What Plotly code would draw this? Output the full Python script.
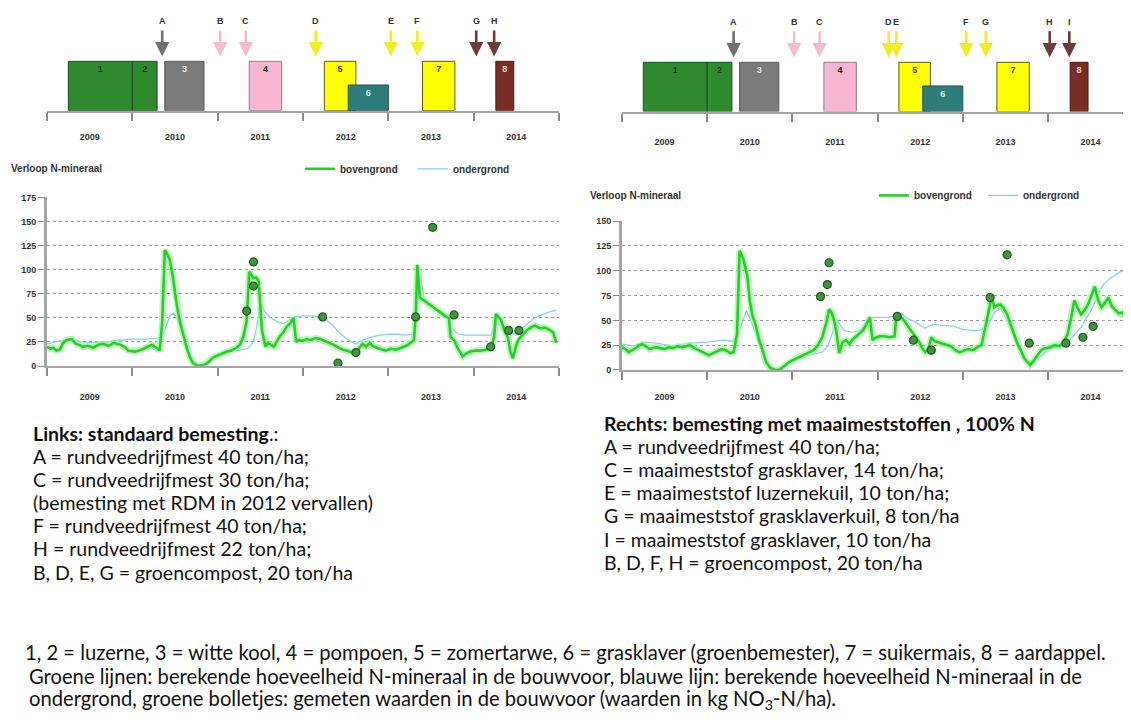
import plotly.graph_objects as go

W, H = 1131, 722
OFF = 8  # the page body adds an 8px margin; positions below are screen pixels

# ---------------- data ----------------
year_labels = ["2009", "2010", "2011", "2012", "2013", "2014"]
year_mid = [2009.5, 2010.5, 2011.5, 2012.5, 2013.5, 2014.5]
year_bounds = [2009, 2010, 2011, 2012, 2013, 2014, 2015]

crop_labels = ["1", "2", "3", "4", "5", "6", "7", "8"]
crop_start = [2009.25, 2010.0, 2010.38, 2011.37, 2012.25, 2012.53, 2013.40, 2014.26]
crop_end = [2010.0, 2010.29, 2010.84, 2011.75, 2012.62, 2013.0, 2013.78, 2014.47]
crop_height = [1, 1, 1, 1, 1, 0.52, 1, 1]

arrows_left_labels = ["A", "B", "C", "D", "E", "F", "G", "H"]
arrows_left_t = [2010.35, 2011.03, 2011.33, 2012.15, 2013.03, 2013.34, 2014.03, 2014.24]
arrows_left_kind = ["rdm", "gc", "gc", "y", "y", "y", "m", "m"]

arrows_right_labels = ["A", "B", "C", "D", "E", "F", "G", "H", "I"]
arrows_right_t = [2010.31, 2011.02, 2011.32, 2012.13, 2012.22, 2013.04, 2013.27, 2014.02, 2014.25]
arrows_right_kind = ["rdm", "gc", "gc", "y", "y", "y", "y", "m", "m"]

# left panel: bovengrond (green)
lb_t = [2009.00, 2009.04, 2009.07, 2009.11, 2009.15, 2009.19, 2009.23, 2009.29, 2009.34, 2009.38, 2009.42,
        2009.48, 2009.54, 2009.60, 2009.66, 2009.72, 2009.78, 2009.83, 2009.87, 2009.92, 2009.95, 2010.03,
        2010.08, 2010.13, 2010.18, 2010.23, 2010.28, 2010.32, 2010.35, 2010.38, 2010.40, 2010.44, 2010.48,
        2010.52, 2010.56, 2010.60, 2010.64, 2010.68, 2010.71, 2010.77, 2010.83, 2010.88, 2010.91, 2010.95,
        2011.00, 2011.05, 2011.11, 2011.16, 2011.22, 2011.26, 2011.30, 2011.34, 2011.37, 2011.40, 2011.42,
        2011.45, 2011.48, 2011.52, 2011.56, 2011.59, 2011.62, 2011.66, 2011.69, 2011.73, 2011.77, 2011.81,
        2011.85, 2011.89, 2011.92, 2011.95, 2012.00, 2012.04, 2012.09, 2012.15, 2012.20, 2012.26, 2012.31,
        2012.36, 2012.42, 2012.47, 2012.52, 2012.57, 2012.62, 2012.66, 2012.70, 2012.74, 2012.78, 2012.82,
        2012.86, 2012.91, 2012.97, 2013.03, 2013.09, 2013.15, 2013.21, 2013.26, 2013.30, 2013.32, 2013.34,
        2013.37, 2013.40, 2013.44, 2013.48, 2013.53, 2013.58, 2013.63, 2013.68, 2013.71, 2013.73, 2013.77,
        2013.81, 2013.85, 2013.87, 2013.91, 2013.96, 2014.02, 2014.08, 2014.14, 2014.20, 2014.24, 2014.26,
        2014.29, 2014.32, 2014.36, 2014.40, 2014.43, 2014.46, 2014.50, 2014.53, 2014.57, 2014.62, 2014.67,
        2014.72, 2014.78, 2014.83, 2014.88, 2014.93, 2014.97]
lb_v = [20, 18, 19, 16, 17, 24, 27, 28, 23, 22, 20,
        21, 19, 22, 23, 21, 24, 23, 22, 19, 16, 15,
        16, 18, 20, 22, 19, 16, 45, 120, 118, 110, 90,
        64, 45, 32, 18, 8, 3, 0, 1, 3, 6, 9,
        11, 13, 15, 16, 19, 22, 30, 47, 98, 94, 91,
        92, 88, 37, 20, 24, 22, 20, 25, 31, 35, 41,
        44, 50, 25, 27, 26, 28, 27, 29, 28, 26, 24,
        22, 19, 17, 16, 14, 13, 19, 23, 20, 24, 21,
        19, 18, 16, 18, 17, 19, 21, 24, 27, 51, 105,
        71, 69, 66, 64, 60, 57, 54, 51, 50, 30, 27,
        19, 13, 10, 13, 15, 16, 16, 17, 18, 30, 54,
        51, 48, 37, 30, 15, 8, 22, 28, 32, 37, 40,
        42, 39, 40, 38, 35, 24]

# left panel: ondergrond (light blue)
lo_t = [2009.00, 2009.08, 2009.15, 2009.28, 2009.40, 2009.55, 2009.70, 2009.85, 2010.00, 2010.15, 2010.30,
        2010.35, 2010.40, 2010.44, 2010.48, 2010.52, 2010.58, 2010.65, 2010.72, 2010.78, 2010.85, 2010.95,
        2011.10, 2011.25, 2011.35, 2011.42, 2011.46, 2011.50, 2011.55, 2011.62, 2011.70, 2011.76, 2011.83,
        2011.90, 2012.00, 2012.10, 2012.20, 2012.27, 2012.35, 2012.42, 2012.50, 2012.57, 2012.62, 2012.70,
        2012.80, 2012.90, 2013.00, 2013.10, 2013.20, 2013.30, 2013.34, 2013.37, 2013.42, 2013.50, 2013.60,
        2013.70, 2013.76, 2013.82, 2013.90, 2014.00, 2014.10, 2014.20, 2014.26, 2014.32, 2014.40, 2014.47,
        2014.55, 2014.63, 2014.72, 2014.80, 2014.88, 2014.97]
lo_v = [23, 25, 26, 28, 25, 24, 25, 27, 28, 28, 29,
        31, 42, 52, 55, 50, 38, 18, 5, 1, 3, 9,
        14, 16, 18, 25, 42, 66, 57, 50, 46, 44, 47,
        51, 52, 52, 51, 48, 42, 35, 29, 25, 23, 27,
        30, 32, 33, 33, 32, 33, 60, 95, 71, 63, 57,
        53, 38, 33, 32, 32, 32, 32, 44, 42, 36, 33,
        38, 44, 50, 53, 56, 58]

# left panel: measured values
lm_t = [2011.34, 2011.42, 2011.42, 2012.23, 2012.41, 2012.62, 2013.32, 2013.52, 2013.77, 2014.20, 2014.41, 2014.53]
lm_v = [57, 108, 83, 51, 3, 14, 51, 144, 53, 20, 37, 37]

# right panel: bovengrond (green)
rb_t = [2009.00, 2009.04, 2009.08, 2009.12, 2009.16, 2009.20, 2009.24, 2009.28, 2009.32, 2009.36, 2009.40,
        2009.45, 2009.50, 2009.55, 2009.60, 2009.65, 2009.70, 2009.75, 2009.80, 2009.85, 2009.90, 2009.95,
        2010.02, 2010.07, 2010.12, 2010.17, 2010.22, 2010.27, 2010.31, 2010.35, 2010.38, 2010.40, 2010.43,
        2010.47, 2010.50, 2010.53, 2010.57, 2010.61, 2010.65, 2010.69, 2010.74, 2010.80, 2010.85, 2010.90,
        2010.96, 2011.03, 2011.08, 2011.14, 2011.20, 2011.25, 2011.30, 2011.35, 2011.40, 2011.43, 2011.46,
        2011.49, 2011.52, 2011.55, 2011.59, 2011.63, 2011.67, 2011.71, 2011.75, 2011.79, 2011.83, 2011.87,
        2011.91, 2011.94, 2011.97, 2012.02, 2012.08, 2012.14, 2012.20, 2012.22, 2012.25, 2012.29, 2012.33,
        2012.37, 2012.41, 2012.45, 2012.49, 2012.53, 2012.56, 2012.60, 2012.63, 2012.67, 2012.71, 2012.76,
        2012.81, 2012.86, 2012.91, 2012.96, 2013.00, 2013.06, 2013.12, 2013.17, 2013.22, 2013.27, 2013.30,
        2013.34, 2013.37, 2013.40, 2013.44, 2013.48, 2013.52, 2013.56, 2013.60, 2013.64, 2013.68, 2013.72,
        2013.76, 2013.79, 2013.83, 2013.87, 2013.92, 2013.97, 2014.03, 2014.08, 2014.13, 2014.18, 2014.23,
        2014.27, 2014.31, 2014.35, 2014.39, 2014.43, 2014.47, 2014.51, 2014.55, 2014.59, 2014.63, 2014.67,
        2014.71, 2014.75, 2014.79, 2014.83, 2014.87, 2014.91, 2014.95, 2014.97]
rb_v = [23, 21, 18, 20, 22, 25, 26, 24, 21, 22, 23,
        22, 21, 23, 22, 24, 23, 24, 25, 22, 20, 18,
        15, 17, 19, 21, 20, 17, 18, 36, 120, 117, 110,
        95, 70, 55, 45, 30, 20, 8, 2, 0, 0, 4,
        8, 11, 13, 15, 18, 20, 25, 33, 48, 61, 58,
        50, 36, 17, 28, 30, 26, 31, 34, 37, 40, 46,
        53, 30, 32, 34, 34, 33, 34, 55, 53, 52, 47,
        42, 38, 33, 28, 21, 18, 22, 33, 29, 28, 26,
        25, 24, 20, 18, 19, 21, 20, 23, 25, 45, 60,
        74, 63, 65, 66, 62, 56, 46, 36, 27, 20, 12,
        8, 5, 9, 14, 20, 22, 23, 25, 24, 27, 36,
        52, 70, 62, 56, 60, 66, 75, 84, 70, 63, 68,
        73, 64, 60, 57, 58, 52, 47, 36]

# right panel: ondergrond (light blue)
ro_t = [2009.00, 2009.08, 2009.15, 2009.25, 2009.40, 2009.60, 2009.80, 2010.00, 2010.20, 2010.30, 2010.36,
        2010.42, 2010.46, 2010.52, 2010.60, 2010.70, 2010.80, 2010.90, 2011.00, 2011.20, 2011.35, 2011.42,
        2011.48, 2011.53, 2011.60, 2011.70, 2011.80, 2011.90, 2012.00, 2012.10, 2012.20, 2012.28, 2012.35,
        2012.45, 2012.55, 2012.65, 2012.75, 2012.90, 2013.00, 2013.10, 2013.20, 2013.30, 2013.37, 2013.45,
        2013.55, 2013.65, 2013.75, 2013.85, 2014.00, 2014.10, 2014.20, 2014.30, 2014.38, 2014.45, 2014.52,
        2014.58, 2014.65, 2014.72, 2014.78, 2014.85, 2014.92, 2014.97]
ro_v = [26, 25, 24, 28, 27, 24, 27, 28, 30, 29, 35,
        50, 60, 48, 28, 5, 0, 4, 9, 15, 18, 25,
        40, 50, 40, 38, 40, 53, 53, 53, 54, 57, 52,
        48, 42, 46, 45, 44, 41, 40, 40, 45, 58, 62,
        45, 22, 8, 10, 20, 23, 25, 35, 42, 52, 62,
        75, 86, 92, 95, 99, 100, 100]

# right panel: measured values
rm_t = [2011.33, 2011.41, 2011.43, 2012.23, 2012.42, 2012.63, 2013.32, 2013.52, 2013.78, 2014.21, 2014.41, 2014.53]
rm_v = [74, 86, 108, 54, 30, 20, 73, 116, 27, 27, 33, 44]

left_lines = ["<b>Links: standaard bemesting</b>.:",
              "A = rundveedrijfmest 40 ton/ha;",
              "C = rundveedrijfmest 30 ton/ha;",
              "(bemesting met RDM in 2012 vervallen)",
              "F = rundveedrijfmest 40 ton/ha;",
              "H = rundveedrijfmest 22 ton/ha;",
              "B, D, E, G = groencompost, 20 ton/ha"]
right_lines = ["<b>Rechts: bemesting met maaimeststoffen , 100% N</b>",
               "A = rundveedrijfmest 40 ton/ha;",
               "C = maaimeststof grasklaver, 14 ton/ha;",
               "E = maaimeststof luzernekuil, 10 ton/ha;",
               "G = maaimeststof grasklaverkuil, 8 ton/ha",
               "I = maaimeststof grasklaver, 10 ton/ha",
               "B, D, F, H = groencompost, 20 ton/ha"]
caption_lines = ["1, 2 = luzerne, 3 = witte kool, 4 = pompoen, 5 = zomertarwe, 6 = grasklaver (groenbemester), 7 = suikermais, 8 = aardappel.",
                 "Groene lijnen: berekende hoeveelheid N-mineraal in de bouwvoor, blauwe lijn: berekende hoeveelheid N-mineraal in de",
                 "ondergrond, groene bolletjes: gemeten waarden in de bouwvoor (waarden in kg NO<sub>3</sub>-N/ha)."]

# ---------------- styles ----------------
crop_colors = ["#2f8a2f", "#2f8a2f", "#7b7b7b", "#f8b6d0", "#ffff00", "#2e7d7b", "#ffff00", "#7a2d25"]
crop_line_colors = ["#14501a", "#14501a", "#5a5a5a", "#8a7f84", "#5c5c10", "#1d5250", "#5c5c10", "#4a1a14"]
crop_text_colors = ["#153815", "#153815", "#eeeeee", "#222222", "#3a3a00", "#d6eeee", "#3a3a00", "#f5d5d0"]
arrow_colors = {"rdm": "#707070", "gc": "#f4bccf", "y": "#eeee22", "m": "#6e3a3a"}

GREEN = "#22d322"
HALO = "#a8f0a8"
BLUE = "#86d2ee"
DOT = "#3e953e"
CHART_FONT = "Liberation Sans"
TEXT_FONT = "Lato"


def px_x(p):
    return (p - OFF) / W


def px_y(p):
    return 1 - (p - OFF) / H


fig = go.Figure()

# crop bars
for xa, ya in (("x", "y"), ("x3", "y3")):
    fig.add_trace(go.Bar(
        x=[(s + e) / 2 for s, e in zip(crop_start, crop_end)],
        width=[e - s for s, e in zip(crop_start, crop_end)],
        y=crop_height, base=0,
        text=["<b>%s</b>" % c for c in crop_labels],
        textposition="inside", insidetextanchor="end", textangle=0,
        textfont=dict(size=9, color=crop_text_colors, family=CHART_FONT),
        constraintext="none",
        marker=dict(color=crop_colors, line=dict(color=crop_line_colors, width=1)),
        xaxis=xa, yaxis=ya, showlegend=False, hoverinfo="skip"))

# N-mineraal lines
panels = [
    ("x2", "y2", "legend", lb_t, lb_v, lo_t, lo_v, lm_t, lm_v),
    ("x4", "y4", "legend2", rb_t, rb_v, ro_t, ro_v, rm_t, rm_v),
]
for xa, ya, lg, bt, bv, ot, ov, mt, mv in panels:
    fig.add_trace(go.Scatter(x=ot, y=ov, mode="lines", line=dict(color=BLUE, width=1.3),
                             xaxis=xa, yaxis=ya, showlegend=False, hoverinfo="skip"))
    fig.add_trace(go.Scatter(x=bt, y=bv, mode="lines", line=dict(color=HALO, width=6.5),
                             opacity=0.7, xaxis=xa, yaxis=ya, showlegend=False, hoverinfo="skip"))
    fig.add_trace(go.Scatter(x=bt, y=bv, mode="lines", name="<b>bovengrond</b>",
                             line=dict(color=GREEN, width=2.6), xaxis=xa, yaxis=ya, legend=lg))
    fig.add_trace(go.Scatter(x=[None], y=[None], mode="lines", name="<b>ondergrond</b>",
                             line=dict(color=BLUE, width=1.3), xaxis=xa, yaxis=ya, legend=lg))
    fig.add_trace(go.Scatter(x=mt, y=mv, mode="markers",
                             marker=dict(size=8, color=DOT, line=dict(color="#1f5a1f", width=1.2)),
                             xaxis=xa, yaxis=ya, showlegend=False, hoverinfo="skip"))

tickfont = dict(family=CHART_FONT, size=9, color="#333333")


def time_axis(domain, rng, standoff):
    return dict(domain=domain, range=rng, showgrid=False, zeroline=False,
                showline=True, linecolor="#a5a5a5", linewidth=2,
                tickmode="array", tickvals=year_mid, ticktext=["<b>%s</b>" % y for y in year_labels],
                ticks="", tickfont=tickfont, ticklabelstandoff=standoff,
                minor=dict(tickmode="array", tickvals=year_bounds, ticks="outside", ticklen=8,
                           tickcolor="#8a8a8a", tickwidth=2, showgrid=False))


def value_axis(domain, top, anchor):
    vals = list(range(0, top + 1, 25))
    return dict(domain=domain, range=[0, top], anchor=anchor,
                tickvals=vals, ticktext=["<b>%d</b>" % v for v in vals],
                tickfont=tickfont, ticks="outside", ticklen=6, tickcolor="#8a8a8a",
                showline=True, linecolor="#a5a5a5", linewidth=3, zeroline=False,
                showgrid=True, gridcolor="#9a9a9a", griddash="dot", gridwidth=1)


L_dom = [px_x(47), px_x(559)]
R_dom = [px_x(622), px_x(1131)]
L_rng = [2009, 2015]
R_rng = [2009, 2009 + (1131 - 622) / 85.2]

legend_font = dict(family=CHART_FONT, size=10, color="#333")

fig.update_layout(
    width=W, height=H, margin=dict(l=0, r=0, t=0, b=0),
    paper_bgcolor="white", plot_bgcolor="white", barmode="overlay",
    xaxis=dict(time_axis(L_dom, L_rng, 17), anchor="y"),
    yaxis=dict(domain=[px_y(107), px_y(12)], range=[0, 1.9], visible=False, anchor="x"),
    xaxis2=dict(time_axis(L_dom, L_rng, 21), anchor="y2"),
    yaxis2=value_axis([px_y(366), px_y(195)], 175, "x2"),
    xaxis3=dict(time_axis(R_dom, R_rng, 21), anchor="y3"),
    yaxis3=dict(domain=[px_y(108), px_y(13)], range=[0, 1.9], visible=False, anchor="x3"),
    xaxis4=dict(time_axis(R_dom, R_rng, 17), anchor="y4"),
    yaxis4=value_axis([px_y(370), px_y(219)], 150, "x4"),
    legend=dict(orientation="h", x=px_x(300), y=px_y(166), xanchor="left", yanchor="middle",
                bgcolor="rgba(0,0,0,0)", font=legend_font,
                entrywidth=68, entrywidthmode="pixels"),
    legend2=dict(orientation="h", x=px_x(874), y=px_y(193), xanchor="left", yanchor="middle",
                 bgcolor="rgba(0,0,0,0)", font=legend_font,
                 entrywidth=64, entrywidthmode="pixels"),
)

ann = []
# fertilisation arrows
for labels, ts, kinds, xr, yr in ((arrows_left_labels, arrows_left_t, arrows_left_kind, "x", "y"),
                                  (arrows_right_labels, arrows_right_t, arrows_right_kind, "x3", "y3")):
    for lab, t, k in zip(labels, ts, kinds):
        ann.append(dict(x=t, y=1.1, xref=xr, yref=yr, ax=t, ay=1.82, axref=xr, ayref=yr,
                        text="<b>%s</b>" % lab, showarrow=True, arrowhead=2, arrowsize=1.1,
                        arrowwidth=2.6, arrowcolor=arrow_colors[k], startstandoff=3,
                        font=dict(family=CHART_FONT, size=9, color="#333333")))

# chart titles
ann.append(dict(x=px_x(9), y=px_y(166), xref="paper", yref="paper", xanchor="left", yanchor="middle",
                text="<b>Verloop N-mineraal</b>", showarrow=False, font=legend_font))
ann.append(dict(x=px_x(588), y=px_y(193), xref="paper", yref="paper", xanchor="left", yanchor="middle",
                text="<b>Verloop N-mineraal</b>", showarrow=False, font=legend_font))

# explanatory text
BLOCK_SIZE = 19.5
CAPTION_SIZE = 20.2
for i, line in enumerate(left_lines):
    ann.append(dict(x=px_x(31), y=px_y(434 + i * 23.5), xref="paper", yref="paper", xanchor="left",
                    yanchor="middle", text=line, showarrow=False,
                    font=dict(family=TEXT_FONT, size=BLOCK_SIZE, color="#111")))
for i, line in enumerate(right_lines):
    ann.append(dict(x=px_x(602), y=px_y(424 + i * 23.5), xref="paper", yref="paper", xanchor="left",
                    yanchor="middle", text=line, showarrow=False,
                    font=dict(family=TEXT_FONT, size=BLOCK_SIZE, color="#111")))
for i, line in enumerate(caption_lines):
    ann.append(dict(x=px_x(23 if i == 0 else 27), y=px_y(656 + i * 24.3), xref="paper", yref="paper",
                    xanchor="left", yanchor="middle", text=line, showarrow=False,
                    font=dict(family=TEXT_FONT, size=CAPTION_SIZE, color="#111")))

fig.update_layout(annotations=ann)
fig.write_html("out.html")
